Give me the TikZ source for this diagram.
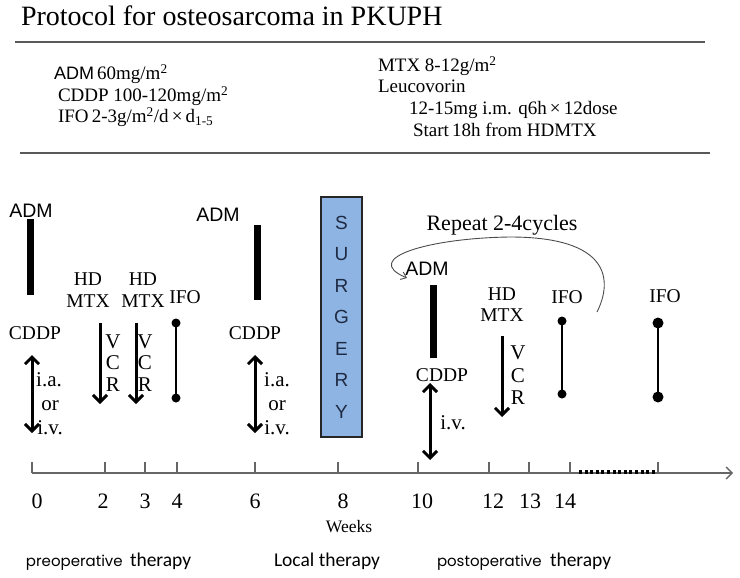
\documentclass[tikz,border=0pt]{standalone}
\usepackage{fontspec}
\setmainfont{Liberation Serif}
\newfontfamily\arialf{Liberation Sans}
\newfontfamily\calibf{Carlito}
\newfontfamily\geof{Poppins}
\usetikzlibrary{arrows.meta}
\definecolor{boxblue}{HTML}{8DB4E2}
\definecolor{navy}{HTML}{1F2A44}
\begin{document}
\begin{tikzpicture}[x=1pt,y=-1pt,
  every node/.style={inner sep=0pt, outer sep=0pt},
  lbl/.style={font=\fontsize{19.5}{22}\selectfont},
  slbl/.style={font=\fontsize{21}{22}\selectfont},
  sanslbl/.style={font=\arialf\fontsize{19.5}{22}\selectfont},
  toptxt/.style={anchor=base west, font=\fontsize{19}{22}\selectfont},
  num/.style={anchor=base, font=\fontsize{22}{24}\selectfont},
  rulestyle/.style={draw=black!65, line width=1.3pt},
  axisline/.style={draw=black!60, line width=1.3pt},
  admbar/.style={line width=7pt},
  dblarrow/.style={line width=3pt, {Straight Barb[length=7pt,width=14pt]}-{Straight Barb[length=7pt,width=14pt]}},
  downarrow/.style={line width=3pt, -{Straight Barb[length=7pt,width=14pt]}},
  ifobar/.style={line width=2.8pt},
  repeatarrow/.style={draw=black!70, line width=0.9pt, -{Straight Barb[length=5pt,width=8pt]}},
  surgerybox/.style={draw=black!85, line width=2pt, fill=boxblue, minimum width=41pt, minimum height=240pt, align=center, text=navy, font=\arialf\fontsize{19}{31.5}\selectfont},
  bottomgeo/.style={anchor=base west, font=\geof\fontsize{15}{18}\selectfont},
  bottomcal/.style={anchor=base west, font=\calibf\fontsize{19.5}{22}\selectfont},
]
\useasboundingbox (0,0) rectangle (740,578);

% title and header
\node[anchor=base west, font=\fontsize{28}{30}\selectfont] (title) at (21,26) {Protocol for osteosarcoma in PKUPH};
\coordinate (r1a) at (15,42); \coordinate (r1b) at (705,42);
\coordinate (r2a) at (20,153); \coordinate (r2b) at (710,153);
\draw[rulestyle] (r1a) -- (r1b);
\draw[rulestyle] (r2a) -- (r2b);

\node[toptxt] (t1) at (54,80) {{\arialf\fontsize{18}{20}\selectfont ADM}\,60mg/m\textsuperscript{2}};
\node[toptxt] (t2) at (58,102) {CDDP 100-120mg/m\textsuperscript{2}};
\node[toptxt] (t3) at (58,123) {IFO\,2-3g/m\textsuperscript{2}/d\,×\,d\textsubscript{1-5}};
\node[toptxt] (t4) at (378,72) {MTX 8-12g/m\textsuperscript{2}};
\node[toptxt] (t5) at (378,93) {Leucovorin};
\node[toptxt] (t6) at (409,115) {12-15mg i.m. q6h\,×\,12dose};
\node[toptxt] (t7) at (413,137) {Start\,18h from HDMTX};

% preoperative
\node[sanslbl] (adm1) at (31,211) {ADM};
\coordinate (b1t) at (30,219); \coordinate (b1b) at (30,295);
\draw[admbar] (b1t) -- (b1b);
\node[lbl] (cddp1) at (35,333) {CDDP};
\coordinate (d1t) at (32,355); \coordinate (d1b) at (32,433);
\draw[dblarrow] (d1t) -- (d1b);
\node[slbl] (ia1) at (49,380) {i.a.};
\node[slbl] (or1) at (50,406) {or};
\node[slbl] (iv1) at (50,428) {i.v.};

\node[lbl] (hd1) at (88,279) {HD};
\node[lbl] (mtx1) at (88,301) {MTX};
\coordinate (m1t) at (100,323); \coordinate (m1b) at (100,404);
\draw[downarrow] (m1t) -- (m1b);
\node[slbl] (v1) at (113,342) {V};
\node[slbl] (c1) at (113,363) {C};
\node[slbl] (rr1) at (113,385) {R};

\node[lbl] (hd2) at (143,279) {HD};
\node[lbl] (mtx2) at (143,301) {MTX};
\coordinate (m2t) at (136,323); \coordinate (m2b) at (136,404);
\draw[downarrow] (m2t) -- (m2b);
\node[slbl] (v2) at (145,342) {V};
\node[slbl] (c2) at (145,363) {C};
\node[slbl] (rr2) at (145,385) {R};

\node[lbl] (ifo1) at (185,297) {IFO};
\coordinate (i1t) at (176,323); \coordinate (i1b) at (176,398);
\draw[ifobar] (i1t) -- (i1b);
\fill (i1t) circle (4.5pt); \fill (i1b) circle (4.5pt);

\node[sanslbl] (adm2) at (218,215) {ADM};
\coordinate (b2t) at (257,225); \coordinate (b2b) at (257,300);
\draw[admbar] (b2t) -- (b2b);
\node[lbl] (cddp2) at (255,333) {CDDP};
\coordinate (d2t) at (255,355); \coordinate (d2b) at (255,433);
\draw[dblarrow] (d2t) -- (d2b);
\node[slbl] (ia2) at (277,380) {i.a.};
\node[slbl] (or2) at (277,406) {or};
\node[slbl] (iv2) at (277,428) {i.v.};

% surgery
\node[surgerybox] (surgery) at (341.5,317) {S\\U\\R\\G\\E\\R\\Y};

% postoperative
\node[font=\fontsize{22}{24}\selectfont] (repeat) at (502,225) {Repeat 2-4cycles};
\node[sanslbl] (adm3) at (427,269) {ADM};
\coordinate (rp0) at (597,312); \coordinate (rpm) at (510,237); \coordinate (rp1) at (407,278);
\draw[repeatarrow] (rp0) .. controls (613,280) and (610,237) .. (rpm) .. controls (430,238) and (360,258) .. (rp1);
\coordinate (b3t) at (433,285); \coordinate (b3b) at (433,358);
\draw[admbar] (b3t) -- (b3b);
\node[lbl] (cddp3) at (442,375) {CDDP};
\coordinate (d3t) at (430,383); \coordinate (d3b) at (430,460);
\draw[dblarrow] (d3t) -- (d3b);
\node[slbl] (iv3) at (453,423) {i.v.};

\node[lbl] (hd3) at (502,294) {HD};
\node[lbl] (mtx3) at (502,315) {MTX};
\coordinate (m3t) at (502,336); \coordinate (m3b) at (502,417);
\draw[downarrow] (m3t) -- (m3b);
\node[slbl] (v3) at (518,353) {V};
\node[slbl] (c3) at (518,376) {C};
\node[slbl] (rr3) at (518,398) {R};

\node[lbl] (ifo2) at (567,297) {IFO};
\coordinate (i2t) at (562,321); \coordinate (i2b) at (562,394);
\draw[ifobar] (i2t) -- (i2b);
\fill (i2t) circle (4.5pt); \fill (i2b) circle (4.5pt);

\node[lbl] (ifo3) at (665,296) {IFO};
\coordinate (i3t) at (658,323); \coordinate (i3b) at (658,397);
\draw[ifobar] (i3t) -- (i3b);
\fill (i3t) circle (5.5pt); \fill (i3b) circle (5.5pt);

% axis
\coordinate (ax0) at (32,473); \coordinate (ax1) at (733,473);
\draw[axisline, -{Straight Barb[length=6pt,width=12pt]}] (ax0) -- (ax1);
\foreach \x in {32,105,145,177,255,338,418,489,529,570,658}
  \draw[axisline] (\x,473) -- (\x,462);
\coordinate (dt0) at (579,472); \coordinate (dt1) at (656,472);
\draw[line width=3.5pt, dash pattern=on 3pt off 2.6pt] (dt0) -- (dt1);

\node[num] (n0) at (37,508) {0};
\node[num] (n2) at (103,508) {2};
\node[num] (n3) at (145,508) {3};
\node[num] (n4) at (177,508) {4};
\node[num] (n6) at (255,508) {6};
\node[num] (n8) at (343,508) {8};
\node[num] (n10) at (422,508) {10};
\node[num] (n12) at (493,508) {12};
\node[num] (n13) at (530,508) {13};
\node[num] (n14) at (565,508) {14};
\node[anchor=base, font=\fontsize{17.5}{20}\selectfont] (weeks) at (349,532) {Weeks};

% bottom labels
\node[bottomgeo] (pre) at (26,566) {preoperative};
\node[bottomcal] (preth) at (130,566) {therapy};
\node[bottomcal] (local) at (274,566) {Local therapy};
\node[bottomgeo] (post) at (437,566) {postoperative};
\node[bottomcal] (postth) at (550,566) {therapy};
\end{tikzpicture}
\end{document}
